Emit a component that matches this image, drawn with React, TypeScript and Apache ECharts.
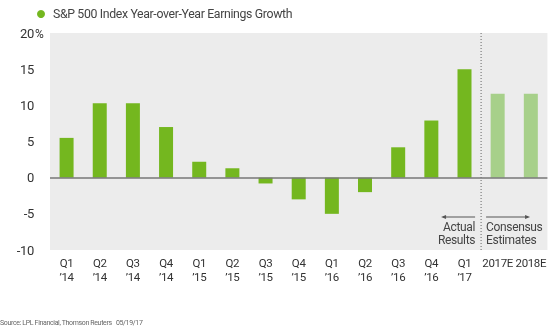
import React, { useEffect, useRef } from "react";
import * as echarts from "echarts";

const categories = [
  "Q1\n’14", "Q2\n’14", "Q3\n’14", "Q4\n’14",
  "Q1\n’15", "Q2\n’15", "Q3\n’15", "Q4\n’15",
  "Q1\n’16", "Q2\n’16", "Q3\n’16", "Q4\n’16",
  "Q1\n’17", "2017E", "2018E",
];
const growth = [5.5, 10.3, 10.3, 7.0, 2.2, 1.3, -0.8, -3.0, -5.0, -2.0, 4.2, 7.9, 15.0, 11.6, 11.6];
const isEstimate = [false, false, false, false, false, false, false, false, false, false, false, false, false, true, true];
const yTicks = { min: -10, max: 20, interval: 5 };
const title = "S&P 500 Index Year-over-Year Earnings Growth";
const source = "Source: LPL Financial, Thomson Reuters   05/19/17";

const FONT = "Roboto, 'Liberation Sans', sans-serif";
const GREEN = "#74b71f";
const LIGHT = "#a7d08a";

export default function App() {
  const ref = useRef<HTMLDivElement>(null);
  useEffect(() => {
    if (!ref.current) return;
    const chart = echarts.init(ref.current, undefined, { renderer: "svg" });
    chart.setOption({
      animation: false,
      textStyle: { fontFamily: FONT },
      grid: {
        left: 50, right: 2, top: 33, bottom: 79,
        show: true, backgroundColor: "#ececec", borderWidth: 0,
      },
      xAxis: {
        type: "category",
        data: categories,
        axisLine: { show: false, onZero: false },
        axisTick: { show: false },
        axisLabel: { color: "#333", fontSize: 11.5, lineHeight: 14, margin: 6, fontFamily: FONT, interval: 0 },
      },
      yAxis: {
        type: "value",
        min: yTicks.min, max: yTicks.max, interval: yTicks.interval,
        splitLine: { show: false },
        axisLine: { show: false },
        axisTick: { show: false },
        axisLabel: { color: "#333", fontSize: 13, margin: 16, fontFamily: FONT },
      },
      series: [
        {
          type: "bar",
          barWidth: 14,
          data: growth.map((v, i) =>
            isEstimate[i] ? { value: v, itemStyle: { color: LIGHT } } : { value: v, itemStyle: { color: GREEN } }
          ),
          markLine: {
            silent: true,
            symbol: "none",
            label: { show: false },
            lineStyle: { color: "#777", width: 1.5, type: "solid" },
            data: [{ yAxis: 0 }],
          },
        },
      ],
    });

    const xA = chart.convertToPixel({ xAxisIndex: 0 }, 12) as number;
    const xB = chart.convertToPixel({ xAxisIndex: 0 }, 13) as number;
    const xDiv = (xA + xB) / 2;
    const yTop = chart.convertToPixel({ yAxisIndex: 0 }, yTicks.max) as number;
    const yBot = chart.convertToPixel({ yAxisIndex: 0 }, yTicks.min) as number;
    const arrowY = yBot - 33;
    const annStyle = { fill: "#444", fontSize: 12, fontFamily: FONT };

    chart.setOption({
      graphic: [
        { type: "circle", shape: { cx: 41, cy: 14, r: 4 }, style: { fill: GREEN } },
        { type: "text", x: 53, y: 14, style: { text: title, fill: "#444", fontSize: 12.3, fontFamily: FONT, verticalAlign: "middle" } },
        { type: "text", x: 35, y: yTop + 1, style: { text: "%", fill: "#333", fontSize: 12, fontFamily: FONT, verticalAlign: "middle" } },
        { type: "line", shape: { x1: xDiv, y1: yTop, x2: xDiv, y2: yBot }, style: { stroke: "#666", lineWidth: 1, lineDash: [1, 2] } },
        { type: "line", shape: { x1: xDiv - 38, y1: arrowY, x2: xDiv - 6, y2: arrowY }, style: { stroke: "#555", lineWidth: 1 } },
        { type: "polygon", shape: { points: [[xDiv - 40, arrowY], [xDiv - 35, arrowY - 2], [xDiv - 35, arrowY + 2]] }, style: { fill: "#555" } },
        { type: "line", shape: { x1: xDiv + 5, y1: arrowY, x2: xDiv + 47, y2: arrowY }, style: { stroke: "#555", lineWidth: 1 } },
        { type: "polygon", shape: { points: [[xDiv + 49, arrowY], [xDiv + 44, arrowY - 2], [xDiv + 44, arrowY + 2]] }, style: { fill: "#555" } },
        { type: "text", x: xDiv - 6, y: yBot - 23, style: { ...annStyle, text: "Actual", align: "right", verticalAlign: "middle" } },
        { type: "text", x: xDiv - 6, y: yBot - 10, style: { ...annStyle, text: "Results", align: "right", verticalAlign: "middle" } },
        { type: "text", x: xDiv + 5, y: yBot - 23, style: { ...annStyle, text: "Consensus", align: "left", verticalAlign: "middle" } },
        { type: "text", x: xDiv + 5, y: yBot - 10, style: { ...annStyle, text: "Estimates", align: "left", verticalAlign: "middle" } },
        { type: "text", x: 0, y: 323, style: { text: source, fill: "#666", fontSize: 7, fontFamily: FONT, verticalAlign: "middle" } },
      ],
    });
    return () => chart.dispose();
  }, []);
  return (
    <>
      <style>{`#root svg text { letter-spacing: -0.35px; }`}</style>
      <div ref={ref} style={{ position: "fixed", left: 0, top: 0, width: 550, height: 329 }} />
    </>
  );
}
